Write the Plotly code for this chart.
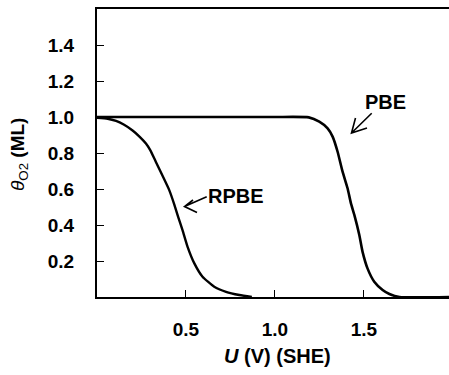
import plotly.graph_objects as go

# Data
pbe_u = [0.0, 0.5, 1.0, 1.19, 1.249, 1.296, 1.324, 1.352, 1.38, 1.408, 1.427, 1.446, 1.474, 1.492, 1.52, 1.558, 1.605, 1.643, 1.7, 1.98]
pbe_theta = [1.0, 1.0, 1.0, 0.998, 0.974, 0.937, 0.891, 0.807, 0.696, 0.604, 0.52, 0.456, 0.344, 0.252, 0.159, 0.085, 0.039, 0.017, 0.0, 0.0]

rpbe_u = [0.0, 0.06, 0.107, 0.15, 0.2, 0.24, 0.275, 0.3, 0.331, 0.369, 0.406, 0.434, 0.456, 0.481, 0.509, 0.547, 0.593, 0.659, 0.725, 0.8, 0.87]
rpbe_theta = [0.995, 0.99, 0.978, 0.958, 0.925, 0.89, 0.853, 0.815, 0.75, 0.672, 0.594, 0.515, 0.445, 0.37, 0.279, 0.187, 0.113, 0.057, 0.029, 0.011, 0.0]

x_ticks = [0.5, 1.0, 1.5]
y_ticks = [0.2, 0.4, 0.6, 0.8, 1.0, 1.2, 1.4]

X_RANGE = [0, 1.978]
Y_RANGE = [0, 1.6]

W, H = 449, 375
ML, MR, MT, MB = 97, 0, 9, 78
PW, PH = W - ML - MR, H - MT - MB

FONT = "Liberation Sans, Arial, sans-serif"


def px2data(px, py):
    u = X_RANGE[0] + (px - ML) / PW * (X_RANGE[1] - X_RANGE[0])
    t = Y_RANGE[0] + (H - MB - py) / PH * (Y_RANGE[1] - Y_RANGE[0])
    return u, t


def px2paper(px, py):
    return (px - ML) / PW, (H - MB - py) / PH


fig = go.Figure()
fig.add_trace(go.Scatter(x=pbe_u, y=pbe_theta, mode="lines",
                         line=dict(color="black", width=2.6, shape="spline", smoothing=0.5),
                         showlegend=False))
fig.add_trace(go.Scatter(x=rpbe_u, y=rpbe_theta, mode="lines",
                         line=dict(color="black", width=2.4, shape="spline", smoothing=0.5),
                         showlegend=False))

# open arrows (tail, tip, arm1, arm2) in pixel space
arrows = [
    [(371.7, 113.3), (351.5, 133.0), (367, 128), (355.5, 118)],
    [(206.7, 196.7), (184.5, 206.5), (197, 212.5), (193, 200)],
]
shapes = []
for tail, tip, a1, a2 in arrows:
    pts = [px2data(*p) for p in (tail, tip, a1, tip, a2)]
    path = "M {} {} L {} {} M {} {} L {} {} L {} {}".format(
        pts[0][0], pts[0][1], pts[1][0], pts[1][1],
        pts[2][0], pts[2][1], pts[3][0], pts[3][1], pts[4][0], pts[4][1])
    shapes.append(dict(type="path", xref="x", yref="y", path=path,
                       line=dict(color="black", width=1.6)))

lab_font = dict(family=FONT, size=20, color="black")

annotations = []
ux, uy = px2data(385, 102)
annotations.append(dict(x=ux, y=uy, xref="x", yref="y", text="<b>PBE</b>",
                        showarrow=False, font=lab_font))
ux, uy = px2data(236, 196)
annotations.append(dict(x=ux, y=uy, xref="x", yref="y", text="<b>RPBE</b>",
                        showarrow=False, font=lab_font))
# axis titles
tx, ty = px2paper(277, 356)
annotations.append(dict(x=tx, y=ty, xref="paper", yref="paper",
                        text="<b><i>U</i> (V) (SHE)</b>", showarrow=False,
                        font=dict(family=FONT, size=20, color="black"),
                        xanchor="center", yanchor="middle"))
tx, ty = px2paper(19, 155)
annotations.append(dict(x=tx, y=ty, xref="paper", yref="paper",
                        text="<i>θ</i><sub>O2</sub> <b>(ML)</b>", showarrow=False,
                        font=dict(family=FONT, size=19, color="black"),
                        textangle=-90, xanchor="center", yanchor="middle"))

tick_font = dict(family=FONT, size=19, color="black", weight="bold")

fig.update_layout(
    width=W, height=H,
    margin=dict(l=ML, r=MR, t=MT, b=MB),
    plot_bgcolor="white", paper_bgcolor="white",
    shapes=shapes, annotations=annotations,
    xaxis=dict(range=X_RANGE, tickvals=x_ticks, ticktext=["%.1f" % v for v in x_ticks],
               ticks="inside", ticklen=7, tickwidth=1.2, tickcolor="black",
               showline=True, linecolor="black", linewidth=2, mirror=True,
               showgrid=False, zeroline=False, tickfont=tick_font,
               ticklabelstandoff=14),
    yaxis=dict(range=Y_RANGE, tickvals=y_ticks, ticktext=["%.1f" % v for v in y_ticks],
               ticks="inside", ticklen=7, tickwidth=1.2, tickcolor="black",
               showline=True, linecolor="black", linewidth=2, mirror=False,
               showgrid=False, zeroline=False, tickfont=tick_font,
               ticklabelstandoff=17),
)

fig.write_html("out.html")
